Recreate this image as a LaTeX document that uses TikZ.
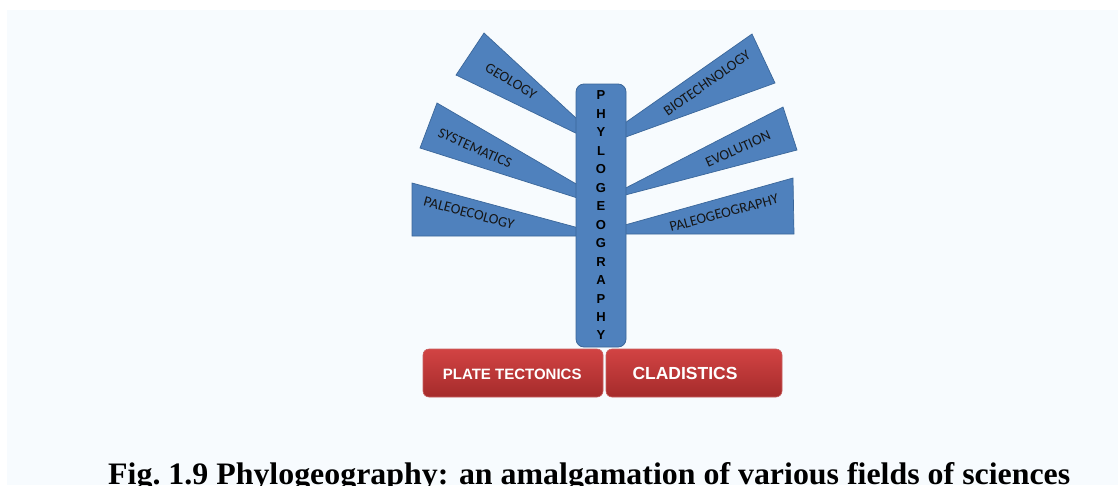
\documentclass[tikz,border=0pt]{standalone}
\usepackage{fontspec}
\setmainfont{Liberation Serif}
\newfontfamily\wedgefont{Carlito}
\newfontfamily\boxfont{Liberation Sans}
\usetikzlibrary{shapes.misc}
\definecolor{bgblue}{HTML}{F7FBFE}
\definecolor{wblue}{HTML}{4F81BD}
\definecolor{wedge}{HTML}{3B679A}
\definecolor{rtop}{HTML}{D24343}
\definecolor{rbot}{HTML}{A52B2B}
\definecolor{redge}{HTML}{C86060}
\definecolor{ink}{HTML}{161616}
\tikzset{
  wedgeshape/.style={fill=wblue, draw=wedge, line width=0.7pt, line join=miter},
  wedgelabel/.style={font=\wedgefont\fontsize{14.5}{14.5}\selectfont, text=ink, inner sep=0pt},
  stembox/.style={rounded corners=8pt, fill=wblue, draw=wedge, line width=0.8pt,
    minimum width=50pt, minimum height=263pt, inner sep=0pt, align=center,
    font=\boxfont\bfseries\fontsize{13}{18.46}\selectfont, text=black},
  redbox/.style={rounded corners=6pt, top color=rtop, bottom color=rbot, draw=redge,
    line width=0.6pt, inner sep=0pt, text=white, font=\boxfont\bfseries},
}
\begin{document}
\begin{tikzpicture}[x=1pt,y=-1pt]
\useasboundingbox (0,0) rectangle (1118,485);
\fill[white] (0,0) rectangle (1118,485);
\fill[bgblue] (7,10) rectangle (1118,485);

% left wedges
\draw[wedgeshape] (484,33) -- (590,131) -- (590,140) -- (456,75) -- cycle;
\draw[wedgeshape] (437,103) -- (590,192) -- (590,202) -- (420,148) -- cycle;
\draw[wedgeshape] (412,183) -- (590,231) -- (590,236) -- (412,236) -- cycle;
% right wedges
\draw[wedgeshape] (752,34) -- (612,132) -- (612,142) -- (775,83) -- cycle;
\draw[wedgeshape] (783,107) -- (612,195) -- (612,198.5) -- (797,150) -- cycle;
\draw[wedgeshape] (793,178) -- (612,228.6) -- (612,234) -- (794,234) -- cycle;

\node[wedgelabel, rotate=-31] (geo) at (511,81) {GEOLOGY};
\node[wedgelabel, rotate=-24] (sys) at (475,148) {SYSTEMATICS};
\node[wedgelabel, rotate=-15] (pec) at (469,213) {PALEOECOLOGY};
\node[wedgelabel, rotate=35] (bio) at (707,83) {BIOTECHNOLOGY};
\node[wedgelabel, rotate=24] (evo) at (738,149) {EVOLUTION};
\node[wedgelabel, rotate=15] (pgg) at (724,213) {PALEOGEOGRAPHY};

% stem
\node[stembox] (stem) at (601,215.5) {P\\H\\Y\\L\\O\\G\\E\\O\\G\\R\\A\\P\\H\\Y};

% red boxes
\node[redbox, minimum width=180pt, minimum height=48pt] (plate) at (513,373) {};
\node[redbox, minimum width=176pt, minimum height=48pt] (clad) at (694,373) {};
\node[inner sep=0pt, text=white, font=\boxfont\bfseries\fontsize{15}{15}\selectfont] (platet) at (512.2,374) {PLATE TECTONICS};
\node[inner sep=0pt, text=white, font=\boxfont\bfseries\fontsize{17.5}{17.5}\selectfont] (cladt) at (685,373) {CLADISTICS};

% caption
\node[anchor=base west, inner sep=0pt] (cap) at (108,484)
  {\resizebox{962pt}{22pt}{\textbf{Fig.~1.9 Phylogeography: an amalgamation of various fields of sciences}}};
\end{tikzpicture}
\end{document}
